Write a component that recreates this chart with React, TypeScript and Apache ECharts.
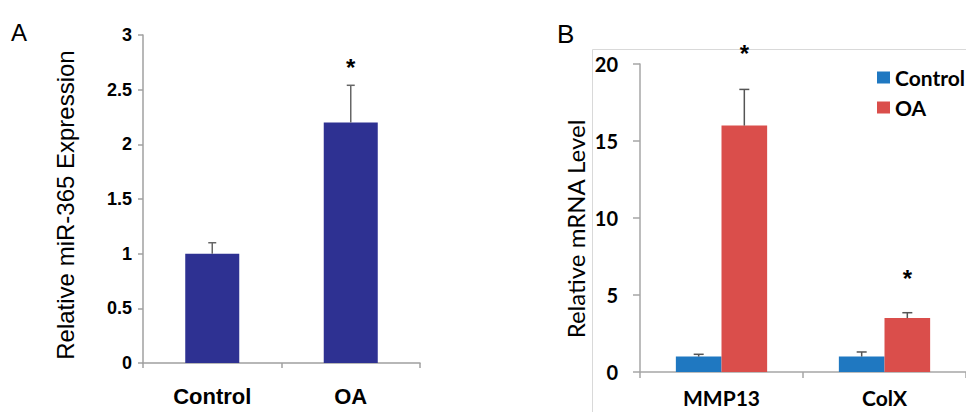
import React, { useEffect, useRef } from "react";
import * as echarts from "echarts";

// Panel A
const catsA = ["Control", "OA"];
const miRValues = [1.0, 2.2];
const miRErrors = [0.1, 0.34];
const miRStars: (number | null)[] = [null, 2.75];
const yTicksA = [0, 0.5, 1, 1.5, 2, 2.5, 3];

// Panel B
const catsB = ["MMP13", "ColX"];
const controlValues = [1.0, 1.0];
const controlErrors = [0.15, 0.3];
const oaValues = [16.0, 3.5];
const oaErrors = [2.35, 0.35];
const oaStars = [21.0, 6.4];
const yTicksB = [0, 5, 10, 15, 20];

const ARIAL = "'Liberation Sans', Arial, sans-serif";
const CALIBRI = "Lato, 'Open Sans', sans-serif";

function errRender(offsetFrac: number, cap: number, color: string) {
  return (params: any, api: any) => {
    const i = api.value(0);
    const v = api.value(1);
    const e = api.value(2);
    const band = api.size([1, 0])[0];
    const p0 = api.coord([i, v]);
    const p1 = api.coord([i, v + e]);
    const x = p0[0] + band * offsetFrac;
    return {
      type: "group",
      children: [
        { type: "line", shape: { x1: x, y1: p0[1], x2: x, y2: p1[1] }, style: { stroke: color, lineWidth: 1.5 } },
        { type: "line", shape: { x1: x - cap, y1: p1[1], x2: x + cap, y2: p1[1] }, style: { stroke: color, lineWidth: 1.5 } },
      ],
    };
  };
}

function starRender(offsetFrac: number, font: string) {
  return (params: any, api: any) => {
    const i = api.value(0);
    const v = api.value(1);
    const band = api.size([1, 0])[0];
    const p = api.coord([i, v]);
    // the asterisk glyph sits high in its em box; shift so the glyph centres on the value
    return {
      type: "text",
      x: p[0] + band * offsetFrac,
      y: p[1] + 5,
      style: { text: "*", textAlign: "center", textVerticalAlign: "middle", font, fill: "#000" },
    };
  };
}

export default function App() {
  const ref = useRef<HTMLDivElement>(null);
  useEffect(() => {
    if (!ref.current) return;
    const chart = echarts.init(ref.current, null, { renderer: "svg" });
    const option: any = {
      animation: false,
      backgroundColor: "#fff",
      grid: [
        { left: 143, top: 35, width: 277, height: 328 },
        { left: 640, top: 64, width: 336, height: 308 },
      ],
      legend: {
        data: ["Control", "OA"],
        orient: "vertical",
        left: 872,
        top: 62,
        icon: "rect",
        itemWidth: 13,
        itemHeight: 12,
        itemGap: 9,
        textStyle: { fontFamily: CALIBRI, fontWeight: "bold", fontSize: 21, color: "#000" },
      },
      xAxis: [
        {
          gridIndex: 0,
          type: "category",
          data: catsA,
          axisLine: { lineStyle: { color: "#a0a0a0", width: 1.5 } },
          axisTick: { show: true, length: 5, lineStyle: { color: "#a0a0a0", width: 1.5 } },
          axisLabel: { margin: 22, fontFamily: ARIAL, fontWeight: "bold", fontSize: 22, color: "#000" },
        },
        {
          gridIndex: 1,
          type: "category",
          data: catsB,
          axisLine: { lineStyle: { color: "#a6a6a6", width: 1.5 } },
          axisTick: { show: true, length: 6, lineStyle: { color: "#a6a6a6", width: 1.5 } },
          axisLabel: { margin: 15, fontFamily: CALIBRI, fontWeight: "bold", fontSize: 21, color: "#000" },
        },
      ],
      yAxis: [
        {
          gridIndex: 0,
          type: "value",
          min: yTicksA[0],
          max: yTicksA[yTicksA.length - 1],
          interval: 0.5,
          splitLine: { show: false },
          axisLine: { show: true, lineStyle: { color: "#a0a0a0", width: 1.5 } },
          axisTick: { show: true, length: 5, lineStyle: { color: "#a0a0a0", width: 1.5 } },
          axisLabel: { margin: 11, fontFamily: ARIAL, fontWeight: "bold", fontSize: 18, color: "#000" },
        },
        {
          gridIndex: 1,
          type: "value",
          min: yTicksB[0],
          max: yTicksB[yTicksB.length - 1],
          interval: 5,
          splitLine: { show: false },
          axisLine: { show: true, lineStyle: { color: "#a6a6a6", width: 1.5 } },
          axisTick: { show: true, length: 7, lineStyle: { color: "#a6a6a6", width: 1.5 } },
          axisLabel: { margin: 22, fontFamily: CALIBRI, fontWeight: "bold", fontSize: 20, color: "#000" },
        },
      ],
      series: [
        {
          name: "miR-365",
          type: "bar",
          xAxisIndex: 0,
          yAxisIndex: 0,
          data: miRValues,
          barWidth: "39%",
          itemStyle: { color: "#2e3192" },
        },
        {
          type: "custom",
          xAxisIndex: 0,
          yAxisIndex: 0,
          renderItem: errRender(0, 4, "#666"),
          data: catsA.map((c, i) => [i, miRValues[i], miRErrors[i]]),
          z: 5,
        },
        {
          type: "custom",
          xAxisIndex: 0,
          yAxisIndex: 0,
          renderItem: starRender(0, `bold 24px ${ARIAL}`),
          data: miRStars.map((s, i) => (s == null ? null : [i, s])).filter((d) => d != null),
          z: 5,
        },
        {
          name: "Control",
          type: "bar",
          xAxisIndex: 1,
          yAxisIndex: 1,
          data: controlValues,
          barWidth: "28%",
          barGap: "0%",
          itemStyle: { color: "#1f78c1" },
        },
        {
          name: "OA",
          type: "bar",
          xAxisIndex: 1,
          yAxisIndex: 1,
          data: oaValues,
          barWidth: "28%",
          barGap: "0%",
          itemStyle: { color: "#da4e4b" },
        },
        {
          type: "custom",
          xAxisIndex: 1,
          yAxisIndex: 1,
          renderItem: errRender(-0.14, 5, "#555"),
          data: catsB.map((c, i) => [i, controlValues[i], controlErrors[i]]),
          z: 5,
        },
        {
          type: "custom",
          xAxisIndex: 1,
          yAxisIndex: 1,
          renderItem: errRender(0.14, 5, "#555"),
          data: catsB.map((c, i) => [i, oaValues[i], oaErrors[i]]),
          z: 5,
        },
        {
          type: "custom",
          xAxisIndex: 1,
          yAxisIndex: 1,
          renderItem: starRender(0.14, `bold 24px ${ARIAL}`),
          data: oaStars.map((s, i) => [i, s]),
          z: 5,
        },
      ],
      graphic: [
        { type: "text", left: 11, top: 20, style: { text: "A", font: `24px ${ARIAL}`, fill: "#000" } },
        { type: "text", left: 557, top: 21, style: { text: "B", font: `26px ${ARIAL}`, fill: "#000" } },
        {
          type: "rect",
          shape: { x: 592.5, y: 49.5, width: 420, height: 420 },
          style: { fill: "none", stroke: "#d9d9d9", lineWidth: 1 },
          z: -1,
        },
        {
          type: "text",
          x: 65,
          y: 205,
          rotation: Math.PI / 2,
          style: {
            text: "Relative miR-365 Expression",
            font: `24px ${ARIAL}`,
            textAlign: "center",
            textVerticalAlign: "middle",
            fill: "#000",
          },
        },
        {
          type: "text",
          x: 575,
          y: 229,
          rotation: Math.PI / 2,
          style: {
            text: "Relative mRNA Level",
            font: `24px ${CALIBRI}`,
            textAlign: "center",
            textVerticalAlign: "middle",
            fill: "#000",
          },
        },
      ],
    };
    chart.setOption(option);
    return () => chart.dispose();
  }, []);
  return (
    <div
      ref={ref}
      style={{ position: "fixed", left: 0, top: 0, width: 966, height: 412, background: "#fff" }}
    />
  );
}
